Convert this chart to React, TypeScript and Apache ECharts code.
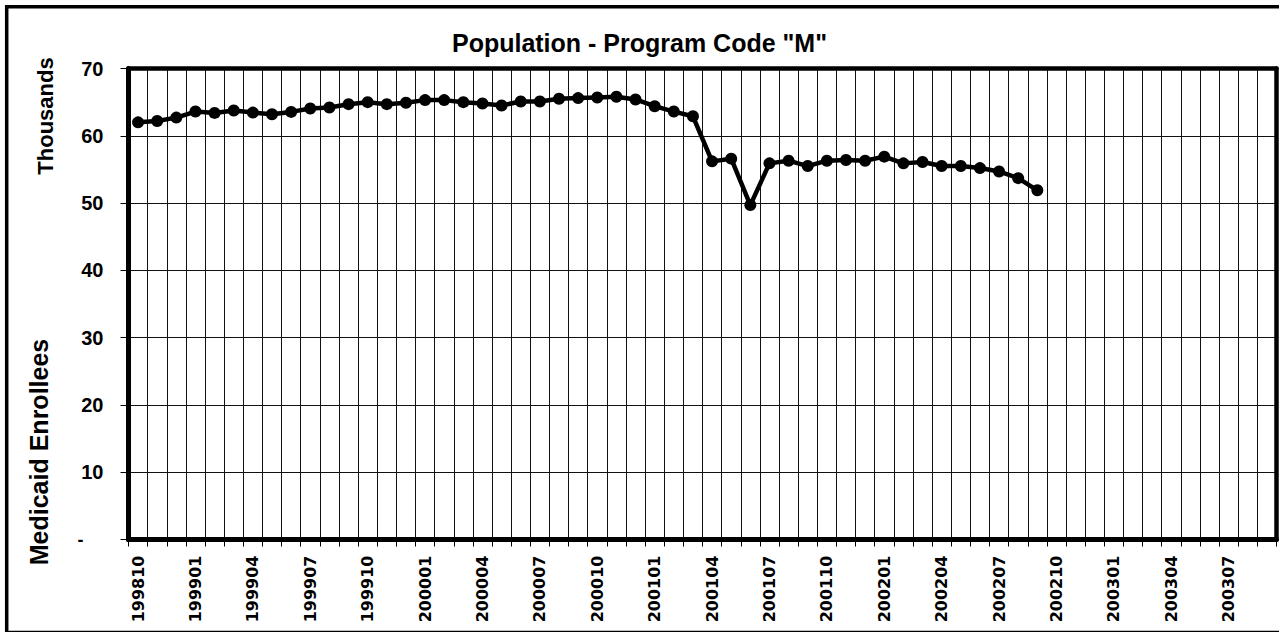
import React, { useEffect, useRef } from "react";
import * as echarts from "echarts";

const months: string[] = [
  "199810", "199811", "199812",
  "199901", "199902", "199903", "199904", "199905", "199906", "199907", "199908", "199909", "199910", "199911", "199912",
  "200001", "200002", "200003", "200004", "200005", "200006", "200007", "200008", "200009", "200010", "200011", "200012",
  "200101", "200102", "200103", "200104", "200105", "200106", "200107", "200108", "200109", "200110", "200111", "200112",
  "200201", "200202", "200203", "200204", "200205", "200206", "200207", "200208", "200209", "200210", "200211", "200212",
  "200301", "200302", "200303", "200304", "200305", "200306", "200307", "200308", "200309",
];

// Enrollees, thousands
const enrollees: number[] = [
  62.0, 62.2, 62.7,
  63.6, 63.4, 63.75, 63.45, 63.2, 63.55, 64.05, 64.2, 64.7, 65.0, 64.7, 64.9,
  65.3, 65.3, 65.0, 64.8, 64.5, 65.1, 65.1, 65.5, 65.6, 65.7, 65.8, 65.4,
  64.4, 63.6, 62.9, 56.2, 56.6, 49.7, 55.9, 56.3, 55.5, 56.3, 56.4, 56.3,
  56.9, 55.9, 56.1, 55.5, 55.5, 55.2, 54.7, 53.7, 51.9,
];

const titleText = 'Population - Program Code "M"';
const unitLabel = "Thousands";
const axisTitle = "Medicaid Enrollees";

export default function App() {
  const ref = useRef<HTMLDivElement>(null);
  useEffect(() => {
    if (!ref.current) return;
    const chart = echarts.init(ref.current, null, { renderer: "svg" });
    const font = "'Liberation Sans', Arial, sans-serif";
    chart.setOption({
      animation: false,
      backgroundColor: "#fff",
      title: {
        text: titleText,
        left: "center",
        top: 25,
        textStyle: { fontFamily: font, fontWeight: "bold", fontSize: 25, color: "#000" },
      },
      grid: {
        left: 128.5,
        right: 2.5,
        top: 68.5,
        bottom: 92.5,
        show: false,
        containLabel: false,
      },
      xAxis: [
        {
          type: "category",
          data: months,
          boundaryGap: true,
          axisLine: { show: true, onZero: false, lineStyle: { color: "#000", width: 5 } },
          axisTick: { show: true, interval: 0, length: 7, lineStyle: { color: "#000", width: 1 } },
          axisLabel: {
            interval: 2,
            rotate: 90,
            margin: 16,
            fontFamily: "'DejaVu Sans', sans-serif",
            fontWeight: "bold",
            fontSize: 16,
            color: "#000",
          },
          splitLine: { show: true, interval: 0, lineStyle: { color: "#111", width: 1 } },
          z: 3,
        },
        {
          type: "category",
          data: months,
          position: "top",
          boundaryGap: true,
          axisLine: { show: true, onZero: false, lineStyle: { color: "#000", width: 4.5 } },
          axisTick: { show: false },
          axisLabel: { show: false },
          splitLine: { show: false },
          z: 3,
        },
      ],
      yAxis: [
        {
          type: "value",
          min: 0,
          max: 70,
          interval: 10,
          axisLine: { show: true, onZero: false, lineStyle: { color: "#000", width: 5 } },
          axisTick: { show: true, length: 8, lineStyle: { color: "#000", width: 1 } },
          axisLabel: {
            margin: 25,
            fontFamily: font,
            fontWeight: "bold",
            fontSize: 20,
            color: "#000",
            formatter: (v: number) => (v === 0 ? "{d|-}" : String(v)),
            rich: {
              d: {
                fontFamily: font,
                fontWeight: "bold",
                fontSize: 18,
                color: "#000",
                padding: [0, 20, 0, 0],
              },
            },
          },
          splitLine: { show: true, lineStyle: { color: "#111", width: 1 } },
          z: 3,
        },
        {
          type: "value",
          min: 0,
          max: 70,
          interval: 10,
          position: "right",
          axisLine: { show: true, onZero: false, lineStyle: { color: "#000", width: 4.5 } },
          axisTick: { show: false },
          axisLabel: { show: false },
          splitLine: { show: false },
          z: 3,
        },
      ],
      series: [
        {
          type: "line",
          data: enrollees,
          symbol: "circle",
          symbolSize: 12,
          lineStyle: { color: "#000", width: 4.5 },
          itemStyle: { color: "#000" },
          z: 5,
        },
      ],
      graphic: [
        {
          type: "rect",
          shape: { x: 6.7, y: 6.7, width: 1300, height: 625.8 },
          style: { fill: "none", stroke: "#000", lineWidth: 3.5 },
          silent: true,
          z: 100,
        },
        {
          type: "text",
          x: 45,
          y: 116,
          rotation: Math.PI / 2,
          style: {
            text: unitLabel,
            fontFamily: font,
            fontWeight: "bold",
            fontSize: 22,
            fill: "#000",
            align: "center",
            verticalAlign: "middle",
          },
        },
        {
          type: "text",
          x: 38.5,
          y: 452,
          rotation: Math.PI / 2,
          style: {
            text: axisTitle,
            fontFamily: font,
            fontWeight: "bold",
            fontSize: 25,
            fill: "#000",
            align: "center",
            verticalAlign: "middle",
          },
        },
      ],
    });
    return () => chart.dispose();
  }, []);
  return (
    <div
      ref={ref}
      style={{ position: "absolute", left: 0, top: 0, width: 1279, height: 632, background: "#fff" }}
    />
  );
}
